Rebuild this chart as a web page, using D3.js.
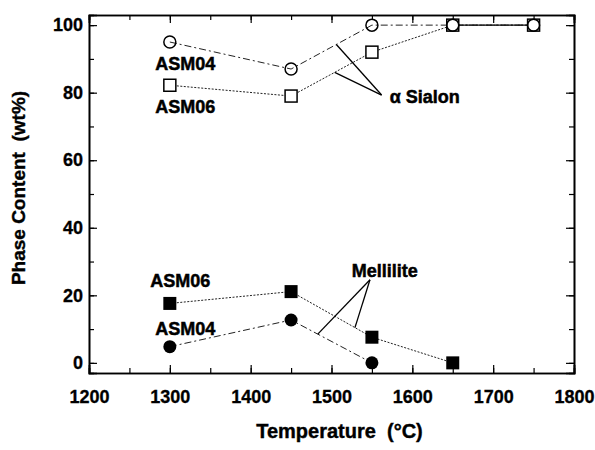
<!DOCTYPE html>
<html><head><meta charset="utf-8">
<script src="https://cdn.jsdelivr.net/npm/d3@7"></script>
<style>
body{margin:0;background:#fff;}
text{font-family:"Liberation Sans",Arial,sans-serif;font-weight:bold;fill:#000;white-space:pre;}
</style></head>
<body><svg id="c" width="595" height="450"></svg>
<script>
// ---- data ----
const sialonTemps = [1300, 1450, 1550, 1650, 1750];
const sialonASM04 = [95, 87, 100, 100, 100];
const sialonASM06 = [82.2, 79, 92, 100, 100];
const melTempsASM06 = [1300, 1450, 1550, 1650];
const melASM06 = [17.6, 21.1, 7.6, 0];
const melTempsASM04 = [1300, 1450, 1550];
const melASM04 = [4.8, 12.7, 0];
const xTicks = [1200, 1300, 1400, 1500, 1600, 1700, 1800];
const yTicks = [0, 20, 40, 60, 80, 100];
const xLabel = "Temperature  (\u00B0C)";
const yLabel = "Phase Content  (wt%)";

// ---- layout ----
const L = 89, R = 574, T = 15, B = 373;
const svg = d3.select("#c");
const x = d3.scaleLinear().domain([1200, 1800]).range([L, R]);
const y = d3.scaleLinear().domain([-3, 103]).range([B, T]);

const xMinor = d3.range(1200, 1801, 50);
const yMinor = d3.range(0, 101, 10);

function axis(gen, tr, vals, size, fmt) {
  const g = svg.append("g").attr("transform", tr)
    .call(gen.tickValues(vals).tickSize(size).tickFormat(fmt || ""));
  g.select(".domain").attr("stroke-width", 1.6);
  g.selectAll(".tick line").attr("stroke-width", 1.2);
  return g;
}
axis(d3.axisBottom(x), `translate(0,${B})`, xMinor, -5);
axis(d3.axisTop(x), `translate(0,${T})`, xMinor, -5);
axis(d3.axisLeft(y), `translate(${L},0)`, yMinor, -5);
axis(d3.axisRight(y), `translate(${R},0)`, yMinor, -5);
const gx = axis(d3.axisBottom(x), `translate(0,${B})`, xTicks, -8, d3.format("d"));
gx.selectAll(".tick text").attr("y", 17);
axis(d3.axisTop(x), `translate(0,${T})`, xTicks, -8);
const gy = axis(d3.axisLeft(y), `translate(${L},0)`, yTicks, -8, d3.format("d"));
gy.selectAll(".tick text").attr("x", -6);
axis(d3.axisRight(y), `translate(${R},0)`, yTicks, -8);
svg.selectAll(".tick text")
  .style("font-family", "Liberation Sans, Arial, sans-serif").style("font-weight", "bold")
  .style("font-size", "18px").attr("fill", "#000").attr("stroke", "#000").attr("stroke-width", 0.3);

// axis titles
svg.append("text").attr("x", (L + R) / 2 + 8).attr("y", 438).attr("text-anchor", "middle")
  .style("font-size", "20px").attr("stroke", "#000").attr("stroke-width", 0.4).text(xLabel);
svg.append("text").attr("transform", `translate(25,${(T + B) / 2 - 6}) rotate(-90)`)
  .attr("text-anchor", "middle").style("font-size", "19px").attr("stroke", "#000").attr("stroke-width", 0.4)
  .text(yLabel);

// lines
const line = d3.line().x(d => x(d[0])).y(d => y(d[1]));
const zip = (a, b) => a.map((v, i) => [v, b[i]]);
const s04 = zip(sialonTemps, sialonASM04), s06 = zip(sialonTemps, sialonASM06);
const m04 = zip(melTempsASM04, melASM04), m06 = zip(melTempsASM06, melASM06);
const dashDot = "7,3,2,3", dotted = "2,1.5";
[[s04, dashDot], [s06, dotted], [m04, dashDot], [m06, dotted]].forEach(([d, dash]) => {
  svg.append("path").attr("d", line(d)).attr("fill", "none").attr("stroke", "#222")
    .attr("stroke-width", 1).attr("stroke-dasharray", dash);
});
for (let i = 0; i < sialonTemps.length - 1; i++) {
  if (sialonASM04[i] === sialonASM06[i] && sialonASM04[i + 1] === sialonASM06[i + 1]) {
    svg.append("path").attr("d", line([s04[i], s04[i + 1]])).attr("stroke", "#111").attr("stroke-width", 1.3);
  }
}

// markers
const sq = 12;
svg.selectAll(".s06").data(s06).enter().append("rect")
  .attr("x", d => x(d[0]) - sq / 2).attr("y", d => y(d[1]) - sq / 2).attr("width", sq).attr("height", sq)
  .attr("fill", "#fff").attr("stroke", "#000").attr("stroke-width", 1.5);
svg.selectAll(".s04").data(s04).enter().append("circle")
  .attr("cx", d => x(d[0])).attr("cy", d => y(d[1])).attr("r", 6)
  .attr("fill", "none").attr("stroke", "#000").attr("stroke-width", 1.5);
svg.selectAll(".m06").data(m06).enter().append("rect")
  .attr("x", d => x(d[0]) - 6.5).attr("y", d => y(d[1]) - 6.5).attr("width", 13).attr("height", 13)
  .attr("fill", "#000");
svg.selectAll(".m04").data(m04).enter().append("circle")
  .attr("cx", d => x(d[0])).attr("cy", d => y(d[1])).attr("r", 6.5).attr("fill", "#000");

// annotations (data coordinates)
const interp = (pts, t) => {
  for (let i = 0; i < pts.length - 1; i++) {
    if (t >= pts[i][0] && t <= pts[i + 1][0]) {
      const f = (t - pts[i][0]) / (pts[i + 1][0] - pts[i][0]);
      return pts[i][1] + f * (pts[i + 1][1] - pts[i][1]);
    }
  }
};
const labels = [
  ["ASM04", 1319, 86.8, "middle"], ["ASM06", 1319, 73.9, "middle"],
  ["\u03B1 Sialon", 1572, 76.8, "start"], ["Mellilite", 1566, 25.4, "middle"],
  ["ASM06", 1313, 22.5, "middle"], ["ASM04", 1319, 8.3, "middle"]
];
labels.forEach(([t, tx, ty, a]) => {
  svg.append("text").attr("x", x(tx)).attr("y", y(ty)).attr("text-anchor", a)
    .style("font-size", "18px").attr("stroke", "#000").attr("stroke-width", 0.5).text(t);
});
const leaders = [
  [[1562, 79.3], s04, 1506], [[1562, 79.3], s06, 1504],
  [[1547.6, 24.6], m04, 1483], [[1547.6, 24.6], m06, 1529]
];
leaders.forEach(([apex, pts, t]) => {
  svg.append("line").attr("x1", x(apex[0])).attr("y1", y(apex[1]))
    .attr("x2", x(t)).attr("y2", y(interp(pts, t)))
    .attr("stroke", "#000").attr("stroke-width", 1.3);
});
</script></body></html>
